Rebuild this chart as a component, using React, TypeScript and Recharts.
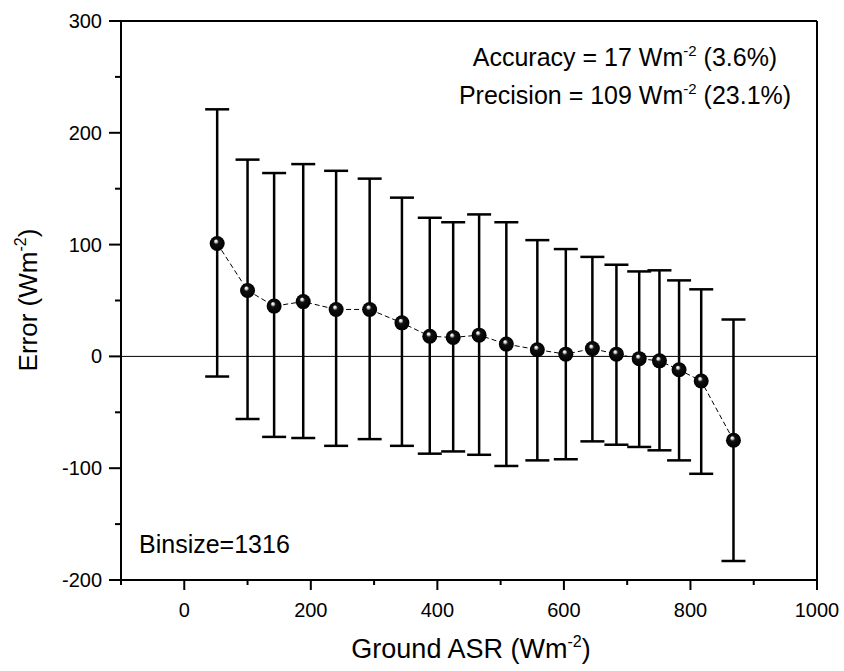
import { ComposedChart, Line, XAxis, YAxis, ErrorBar, ReferenceLine } from "recharts";

// binned ground ASR (Wm-2) and retrieval error statistics
const asr = [52, 100, 142, 188, 240, 293, 344, 388, 425, 466, 509, 558, 603, 645, 683, 719, 751, 782, 817, 868];
const meanError = [101, 59, 45, 49, 42, 42, 30, 18, 17, 19, 11, 6, 2, 7, 2, -2, -4, -12, -22, -75];
const upperBound = [221, 176, 164, 172, 166, 159, 142, 124, 120, 127, 120, 104, 96, 89, 82, 76, 77, 68, 60, 33];
const lowerBound = [-18, -56, -72, -73, -80, -74, -80, -87, -85, -88, -98, -93, -92, -76, -79, -81, -84, -93, -105, -183];

const xTicks = [-100, 0, 100, 200, 300, 400, 500, 600, 700, 800, 900, 1000];
const yTicks = [-200, -150, -100, -50, 0, 50, 100, 150, 200, 250, 300];

const data = asr.map((x, i) => ({
  x,
  y: meanError[i],
  err: [meanError[i] - lowerBound[i], upperBound[i] - meanError[i]],
}));

const FONT = "'Liberation Sans', Arial, Helvetica, sans-serif";

function XTick({ x, y, payload }: any) {
  const v = payload.value;
  const major = v >= 0 && v % 200 === 0;
  return (
    <g>
      <line x1={x} x2={x} y1={y} y2={y + (major ? 10 : 5)} stroke="#000" strokeWidth={2} />
      {major && (
        <text x={x} y={y + 37} textAnchor="middle" fontSize={20} fontFamily={FONT} fill="#000">
          {v}
        </text>
      )}
    </g>
  );
}

function YTick({ x, y, payload }: any) {
  const v = payload.value;
  const major = v % 100 === 0;
  return (
    <g>
      <line x1={x - (major ? 12 : 6)} x2={x} y1={y} y2={y} stroke="#000" strokeWidth={2} />
      {major && (
        <text x={x - 19} y={y + 7} textAnchor="end" fontSize={20} fontFamily={FONT} fill="#000">
          {v}
        </text>
      )}
    </g>
  );
}

function Ball({ cx, cy, index }: any) {
  const id = `ball-${index}`;
  return (
    <g key={id}>
      <defs>
        <radialGradient id={id} cx="50%" cy="50%" r="50%" fx="40%" fy="32%">
          <stop offset="0%" stopColor="#fff" />
          <stop offset="15%" stopColor="#ddd" />
          <stop offset="35%" stopColor="#111" />
          <stop offset="100%" stopColor="#000" />
        </radialGradient>
      </defs>
      <circle cx={cx} cy={cy} r={7.5} fill={`url(#${id})`} />
    </g>
  );
}

export default function App() {
  return (
    <div style={{ position: "absolute", left: 0, top: 0, width: 844, height: 671, background: "#fff" }}>
      <ComposedChart width={844} height={671} data={data} margin={{ top: 21, right: 27, bottom: 0, left: 0 }}>
        <XAxis
          dataKey="x"
          type="number"
          domain={[-100, 1000]}
          ticks={xTicks}
          interval={0}
          allowDataOverflow
          height={91}
          tickSize={0}
          tickMargin={0}
          tickLine={false}
          axisLine={{ stroke: "#000", strokeWidth: 2 }}
          tick={<XTick />}
        />
        <YAxis
          type="number"
          domain={[-200, 300]}
          ticks={yTicks}
          interval={0}
          allowDataOverflow
          width={121}
          tickSize={0}
          tickMargin={0}
          tickLine={false}
          axisLine={{ stroke: "#000", strokeWidth: 2 }}
          tick={<YTick />}
        />
        <ReferenceLine y={300} stroke="#000" strokeWidth={2} />
        <ReferenceLine x={1000} stroke="#000" strokeWidth={2} />
        <ReferenceLine y={0} stroke="#000" strokeWidth={1} />
        <Line
          dataKey="y"
          stroke="#000"
          strokeWidth={1}
          strokeDasharray="5 3"
          isAnimationActive={false}
          activeDot={false}
          dot={(p: any) => <Ball key={p.index} {...p} />}
        >
          <ErrorBar dataKey="err" width={12} strokeWidth={2.5} stroke="#000" direction="y" isAnimationActive={false} />
        </Line>
        <text x={625} y={66} textAnchor="middle" fontSize={25} fontFamily={FONT} fill="#000">
          <tspan>Accuracy = 17 Wm</tspan>
          <tspan dy={-10} fontSize={15}>-2</tspan>
          <tspan dy={10}> (3.6%)</tspan>
        </text>
        <text x={625} y={104} textAnchor="middle" fontSize={25} fontFamily={FONT} fill="#000">
          <tspan>Precision = 109 Wm</tspan>
          <tspan dy={-10} fontSize={15}>-2</tspan>
          <tspan dy={10}> (23.1%)</tspan>
        </text>
        <text x={139} y={553} fontSize={25} fontFamily={FONT} fill="#000">
          Binsize=1316
        </text>
        <text x={471} y={658} textAnchor="middle" fontSize={27} fontFamily={FONT} fill="#000">
          <tspan>Ground ASR (Wm</tspan>
          <tspan dy={-11} fontSize={16}>-2</tspan>
          <tspan dy={11}>)</tspan>
        </text>
        <text
          x={37}
          y={300}
          transform="rotate(-90 37 300)"
          textAnchor="middle"
          fontSize={26}
          fontFamily={FONT}
          fill="#000"
        >
          <tspan>Error (Wm</tspan>
          <tspan dy={-11} fontSize={16}>-2</tspan>
          <tspan dy={11}>)</tspan>
        </text>
      </ComposedChart>
    </div>
  );
}
